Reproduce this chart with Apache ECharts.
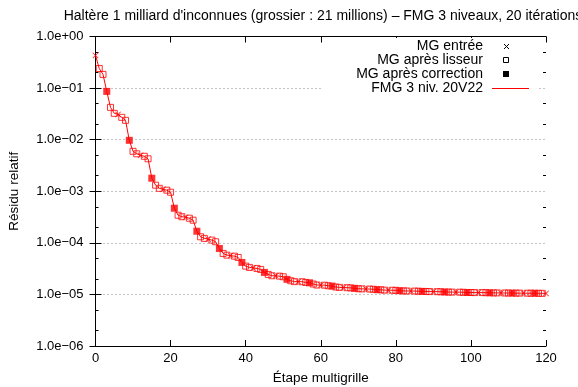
<!DOCTYPE html>
<html><head><meta charset="utf-8">
<script src="https://cdn.jsdelivr.net/npm/echarts@6/dist/echarts.min.js"></script>
<style>html,body{margin:0;padding:0;background:#fff}#c{width:578px;height:387px}</style>
</head><body><div id="c"></div>
<script>
const titleText = "Haltère 1 milliard d'inconnues (grossier : 21 millions) – FMG 3 niveaux, 20 itérations";
const xName = "Étape multigrille";
const yName = "Résidu relatif";
const legendNames = ["MG entrée", "MG après lisseur", "MG après correction", "FMG 3 niv. 20V22"];
// step kind pattern inside one multigrid cycle (6 steps)
const cyclePattern = ["entree", "lisseur", "lisseur", "correction", "lisseur", "lisseur"];
const xTicks = [0, 20, 40, 60, 80, 100, 120];
const yMinorTicks = [5e-1, 2e-1, 5e-2, 2e-2, 5e-3, 2e-3, 5e-4, 2e-4, 5e-5, 2e-5, 5e-6, 2e-6];
// relative residual for each multigrid step 0..120
const residuals = [
  0.429, 0.240, 0.184, 0.0862, 0.0423, 0.0324, 0.0309, 0.0271, 0.0237, 0.00971,
  0.00595, 0.00532, 0.00498, 0.00476, 0.00426, 0.00179, 0.00131, 0.00114, 0.00109, 0.00105,
  0.000957, 0.000469, 0.000343, 0.000321, 0.000314, 0.000300, 0.000275, 0.000168, 0.000131, 0.000122,
  0.000118, 0.000113, 0.000105, 7.78e-5, 6.23e-5, 5.78e-5, 5.65e-5, 5.52e-5, 5.21e-5, 4.17e-5,
  3.54e-5, 3.34e-5, 3.26e-5, 3.19e-5, 3.05e-5, 2.67e-5, 2.44e-5, 2.30e-5, 2.29e-5, 2.26e-5,
  2.20e-5, 1.96e-5, 1.84e-5, 1.77e-5, 1.77e-5, 1.76e-5, 1.71e-5, 1.68e-5, 1.59e-5, 1.52e-5,
  1.52e-5, 1.51e-5, 1.47e-5, 1.45e-5, 1.39e-5, 1.37e-5, 1.36e-5, 1.35e-5, 1.34e-5, 1.31e-5,
  1.29e-5, 1.28e-5, 1.275e-5, 1.27e-5, 1.26e-5, 1.235e-5, 1.23e-5, 1.21e-5, 1.21e-5, 1.205e-5,
  1.20e-5, 1.18e-5, 1.17e-5, 1.165e-5, 1.165e-5, 1.16e-5, 1.155e-5, 1.145e-5, 1.14e-5, 1.135e-5,
  1.135e-5, 1.13e-5, 1.125e-5, 1.115e-5, 1.11e-5, 1.11e-5, 1.105e-5, 1.105e-5, 1.10e-5, 1.09e-5,
  1.09e-5, 1.085e-5, 1.085e-5, 1.085e-5, 1.08e-5, 1.075e-5, 1.07e-5, 1.07e-5, 1.07e-5, 1.065e-5,
  1.065e-5, 1.06e-5, 1.06e-5, 1.06e-5, 1.06e-5, 1.055e-5, 1.055e-5, 1.055e-5, 1.05e-5, 1.05e-5,
  1.045e-5
];

const RED = '#ff0000';
const FONT = '"Liberation Sans", Arial, sans-serif';
const allPts = residuals.map((v, i) => [i, v]);
const ofKind = k => allPts.filter(p => cyclePattern[p[0] % cyclePattern.length] === k);
const crossPath = 'path://M0,1L1,0L5,4L9,0L10,1L6,5L10,9L9,10L5,6L1,10L0,9L4,5Z';

function fmtExp(v) {
  const e = Math.round(Math.log10(v));
  const a = Math.abs(e);
  return '1.0e' + (e < 0 ? '\u2212' : '+') + (a < 10 ? '0' : '') + a;
}

const G = { left: 95.5, right: 32, top: 36.5, bottom: 41, containLabel: false, outerBoundsMode: 'none' };

const chart = echarts.init(document.getElementById('c'), null, { renderer: 'canvas' });

const baseY = {
  type: 'log', logBase: 10, min: 1e-6, max: 1,
  axisLine: { show: true, lineStyle: { color: '#000', width: 1 } },
  splitLine: { show: false }, minorTick: { show: false },
  axisLabel: { show: false }
};
const legFont = '14px ' + FONT;

chart.setOption({
  animation: false,
  textStyle: { fontFamily: FONT },
  title: {
    text: titleText, left: 318, top: 4, textAlign: 'center',
    textStyle: { fontSize: 14, fontWeight: 'normal', color: '#000', fontFamily: FONT }
  },
  grid: G,
  xAxis: [{
    type: 'value', min: 0, max: 120, interval: 20, position: 'bottom',
    name: xName, nameLocation: 'middle', nameGap: 25,
    nameTextStyle: { fontSize: 13.5, color: '#000', fontFamily: FONT },
    axisLine: { show: true, onZero: false, lineStyle: { color: '#000', width: 1 } },
    axisTick: { show: true, inside: true, length: 6, lineStyle: { color: '#000' }, customValues: xTicks },
    axisLabel: { fontSize: 13, color: '#000', margin: 6, fontFamily: FONT, customValues: xTicks },
    splitLine: { show: false }
  }, {
    type: 'value', min: 0, max: 120, interval: 20, position: 'top',
    axisLine: { show: true, onZero: false, lineStyle: { color: '#000', width: 1 } },
    axisTick: { show: true, inside: true, length: 6, lineStyle: { color: '#000' } },
    axisLabel: { show: false }, splitLine: { show: false }
  }],
  yAxis: [
    Object.assign({}, baseY, {
      position: 'left', interval: 1,
      name: yName, nameLocation: 'middle', nameGap: 74, nameRotate: 90,
      nameTextStyle: { fontSize: 13.5, color: '#000', fontFamily: FONT },
      axisTick: { show: true, inside: true, length: 6, lineStyle: { color: '#000' } },
      axisLabel: { show: true, fontSize: 13, color: '#000', margin: 12, fontFamily: FONT, formatter: fmtExp },
      splitLine: { show: true, lineStyle: { color: '#888', width: 1, type: [1, 3] } }
    }),
    Object.assign({}, baseY, {
      position: 'right', interval: 1,
      axisTick: { show: true, inside: true, length: 6, lineStyle: { color: '#000' } }
    }),
    Object.assign({}, baseY, {
      position: 'left',
      axisLine: { show: false },
      axisTick: { show: true, inside: true, length: 3, lineStyle: { color: '#000' }, customValues: yMinorTicks }
    }),
    Object.assign({}, baseY, {
      position: 'right',
      axisLine: { show: false },
      axisTick: { show: true, inside: true, length: 3, lineStyle: { color: '#000' }, customValues: yMinorTicks }
    })
  ],
  graphic: [
    { type: 'rect', z: 50, shape: { x: 322, y: 38, width: 217, height: 60 }, style: { fill: '#fff' } },
    { type: 'text', z: 60, x: 483, y: 46, style: { text: legendNames[0], align: 'right', verticalAlign: 'middle', font: legFont, fill: '#000' } },
    { type: 'text', z: 60, x: 483, y: 60, style: { text: legendNames[1], align: 'right', verticalAlign: 'middle', font: legFont, fill: '#000' } },
    { type: 'text', z: 60, x: 483, y: 74, style: { text: legendNames[2], align: 'right', verticalAlign: 'middle', font: legFont, fill: '#000' } },
    { type: 'text', z: 60, x: 483, y: 88, style: { text: legendNames[3], align: 'right', verticalAlign: 'middle', font: legFont, fill: '#000' } },
    { type: 'polyline', z: 60, shape: { points: [[504, 44], [509, 49]] }, style: { stroke: '#000', lineWidth: 1 } },
    { type: 'polyline', z: 60, shape: { points: [[509, 44], [504, 49]] }, style: { stroke: '#000', lineWidth: 1 } },
    { type: 'rect', z: 60, shape: { x: 503.5, y: 57.5, width: 5, height: 5 }, style: { fill: 'none', stroke: '#000', lineWidth: 1 } },
    { type: 'rect', z: 60, shape: { x: 503, y: 71, width: 6, height: 6 }, style: { fill: '#000' } },
    { type: 'line', z: 60, shape: { x1: 492, y1: 88.5, x2: 529, y2: 88.5 }, style: { stroke: RED, lineWidth: 1 } }
  ],
  series: [
    {
      name: legendNames[3], type: 'line', xAxisIndex: 0, yAxisIndex: 0, data: allPts,
      showSymbol: false, symbol: 'none', lineStyle: { color: RED, width: 1 }, z: 3
    },
    {
      name: legendNames[0], type: 'scatter', xAxisIndex: 0, yAxisIndex: 0, data: ofKind('entree'),
      symbol: crossPath, symbolSize: 6, itemStyle: { color: RED }, z: 4
    },
    {
      name: legendNames[1], type: 'scatter', xAxisIndex: 0, yAxisIndex: 0, data: ofKind('lisseur'),
      symbol: 'rect', symbolSize: 6, itemStyle: { color: 'rgba(255,255,255,0)', borderColor: RED, borderWidth: 1 }, z: 4
    },
    {
      name: legendNames[2], type: 'scatter', xAxisIndex: 0, yAxisIndex: 0, data: ofKind('correction'),
      symbol: 'rect', symbolSize: 7, itemStyle: { color: RED }, z: 4
    }
  ]
});
</script>
</body></html>
